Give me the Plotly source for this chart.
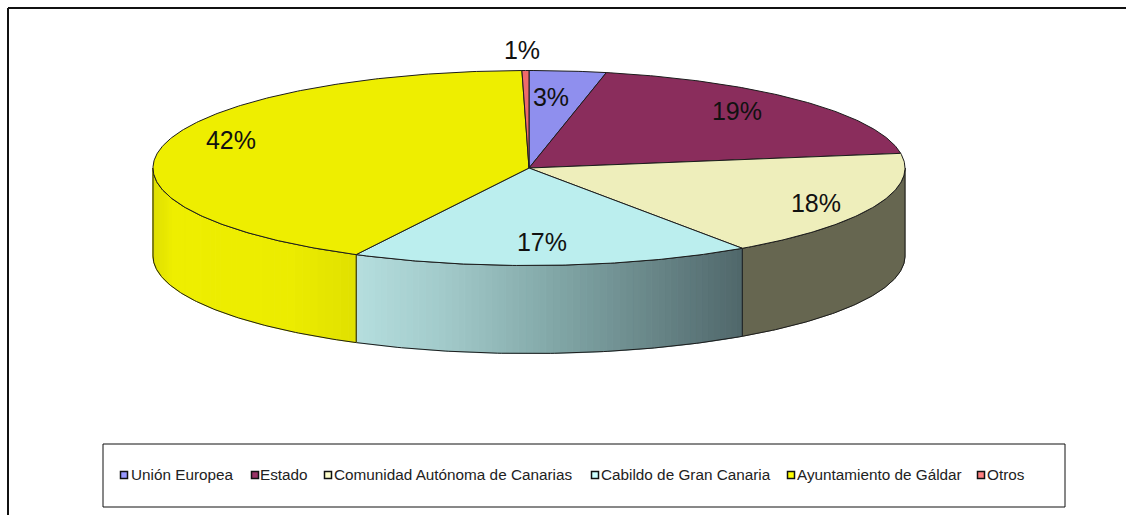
import numpy as np
import plotly.graph_objects as go

# ---- data (percent of total, clockwise from 12 o'clock)
categories = ["Unión Europea", "Estado", "Comunidad Autónoma de Canarias",
              "Cabildo de Gran Canaria", "Ayuntamiento de Gáldar", "Otros"]
values = [3.3, 19.3, 17.8, 17.2, 42.1, 0.3]
value_labels = ["3%", "19%", "18%", "17%", "42%", "1%"]

# ---- styling
top_colors = ["#8f8fee", "#8a2d5c", "#eeeebb", "#bbeeee", "#eeee00", "#ee6a6a"]
legend_colors = ["#9999ff", "#993366", "#ffffcc", "#ccffff", "#ffff00", "#ff8080"]
EDGE = "#1c1c1c"
W, H = 1126, 515
CX, CY, RX, RY, DEPTH = 529, 168, 376, 97.5, 88

# side shading: slice index -> (x stops in px, colours as rgb, strips)
side_shade = {
    2: ([741, 905], [(102, 102, 80), (102, 102, 80)], 1),
    3: ([357, 450, 560, 650, 741], [(181, 222, 222), (160, 200, 200), (128, 165, 165), (105, 135, 137), (80, 103, 107)], 60),
    4: ([153, 172, 290, 357], [(222, 222, 0), (238, 238, 0), (236, 236, 0), (224, 224, 0)], 45),
}
# label anchors (px)
label_px = [(551, 100), (737, 114), (816, 206), (542, 245), (231, 143), (522, 53)]
legend_square_px = [124, 255, 328, 595, 791, 981]
legend_text_px = [131, 260, 334, 601, 797, 987]
LEGEND_Y = 476


def ux(px):
    return (np.asarray(px, dtype=float) - CX) / RX


def uy(py):
    return (CY - np.asarray(py, dtype=float)) / RY


d = DEPTH / RY
edges = np.concatenate([[0], np.cumsum(values)]) / sum(values) * 2 * np.pi

fig = go.Figure()


def arc(a0, a1, n=None):
    n = n or max(3, int(abs(a1 - a0) / 0.01))
    return np.linspace(a0, a1, n)


# side walls (visible for angles between 90 and 270 degrees)
for i in range(len(values)):
    a0, a1 = max(edges[i], np.pi / 2), min(edges[i + 1], 3 * np.pi / 2)
    if a1 <= a0 or i not in side_shade:
        continue
    stops, cols, strips = side_shade[i]
    cols = np.array(cols, dtype=float)
    cuts = np.linspace(a0, a1, strips + 1)
    for s0, s1 in zip(cuts[:-1], cuts[1:]):
        t = arc(s0, s1, 5 if strips > 1 else None)
        xs, ys = np.sin(t), np.cos(t)
        xm = CX + RX * np.sin((s0 + s1) / 2)
        rgb = [int(round(np.interp(xm, stops, cols[:, k]))) for k in range(3)]
        c = f"rgb({rgb[0]},{rgb[1]},{rgb[2]})"
        fig.add_trace(go.Scatter(
            x=np.r_[xs, xs[::-1], xs[0]], y=np.r_[ys, ys[::-1] - d, ys[0]],
            mode="lines", fill="toself", fillcolor=c, line=dict(color=c, width=1),
            hoverinfo="skip", showlegend=False))
    t = arc(a0, a1)
    xs, ys = np.sin(t), np.cos(t)
    fig.add_trace(go.Scatter(
        x=np.r_[xs, xs[::-1], xs[0]], y=np.r_[ys, ys[::-1] - d, ys[0]],
        mode="lines", line=dict(color=EDGE, width=1), hoverinfo="skip", showlegend=False))

# top wedges
for i, name in enumerate(categories):
    t = arc(edges[i], edges[i + 1])
    fig.add_trace(go.Scatter(
        x=np.r_[0, np.sin(t), 0], y=np.r_[0, np.cos(t), 0],
        mode="lines", fill="toself", fillcolor=top_colors[i],
        line=dict(color=EDGE, width=1), name=name, text=value_labels[i],
        hoverinfo="name+text", showlegend=False))

# percentage labels
lx, ly = zip(*label_px)
fig.add_trace(go.Scatter(
    x=ux(lx), y=uy(ly), mode="text", text=value_labels,
    textposition="middle center", hoverinfo="skip", showlegend=False,
    textfont=dict(family="Liberation Sans", size=25, color="#111111")))

# legend entries
fig.add_trace(go.Scatter(
    x=ux(legend_square_px), y=uy([LEGEND_Y - 1] * 6), mode="markers", hoverinfo="skip", showlegend=False,
    marker=dict(symbol="square", size=7, color=legend_colors, line=dict(color="#111111", width=1.5))))
fig.add_trace(go.Scatter(
    x=ux(legend_text_px), y=uy([LEGEND_Y] * 6), mode="text", text=categories,
    textposition="middle right", hoverinfo="skip", showlegend=False,
    textfont=dict(family="Liberation Sans", size=15.3, color="#222222")))

fig.update_layout(
    width=W, height=H, margin=dict(l=0, r=0, t=0, b=0), autosize=False,
    paper_bgcolor="white", plot_bgcolor="white", showlegend=False,
    xaxis=dict(range=[ux(0), ux(W)], visible=False, fixedrange=True),
    yaxis=dict(range=[uy(H), uy(0)], visible=False, fixedrange=True),
    shapes=[
        dict(type="line", xref="paper", yref="paper", x0=8 / W, x1=8 / W, y0=0, y1=1 - 8 / H,
             line=dict(color="#111111", width=2)),
        dict(type="line", xref="paper", yref="paper", x0=8 / W, x1=1, y0=1 - 8 / H, y1=1 - 8 / H,
             line=dict(color="#111111", width=2)),
        dict(type="rect", xref="paper", yref="paper", x0=103 / W, x1=1065 / W,
             y0=1 - 507 / H, y1=1 - 444 / H, line=dict(color="#111111", width=1)),
    ],
)

fig.write_html("out.html", config={"displayModeBar": False},
               post_script="document.body.style.margin='0';document.body.style.overflow='hidden';")
